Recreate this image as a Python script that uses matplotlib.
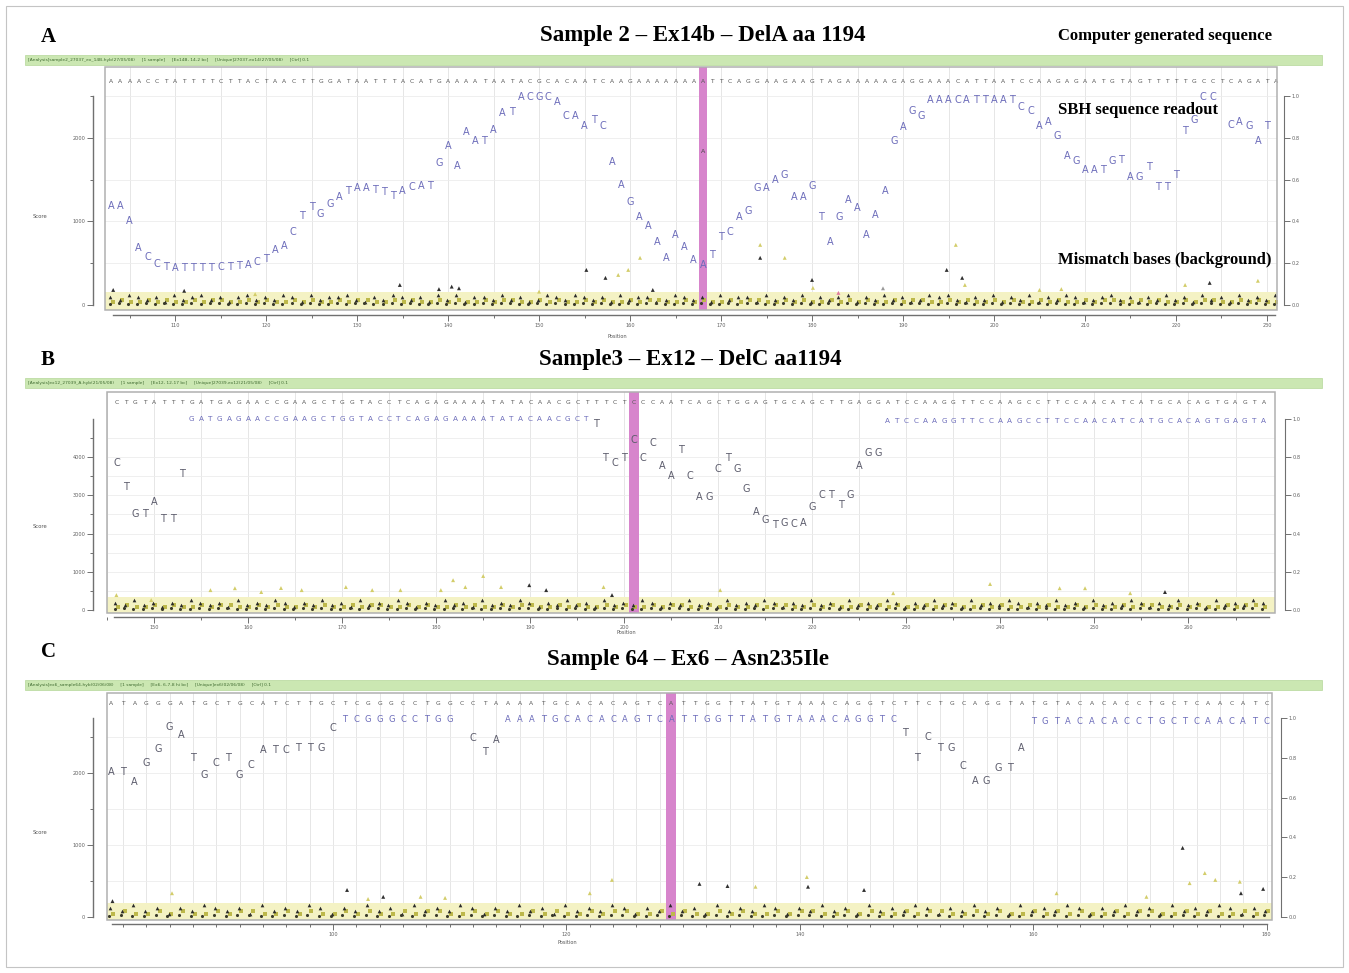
import numpy as np
import matplotlib
matplotlib.use("Agg")
import matplotlib.pyplot as plt
from matplotlib.patches import Rectangle

W, H = 1349, 973
nan = np.nan

# ---------------- panel A : Sample 2 - Ex14b - DelA
a_title = "Sample 2 – Ex14b – DelA aa 1194"
a_start = 103
a_seq = ("AAAACCTATT" "TTCTTACTAA" "CTTGGATAAT" "TTACATGAAA" "ATAATACGCA"
         "CAATCAAGAA" "AAAAA" "A"
         "TTCAGGAAGA" "AGTAGAAAAA" "GAGGAAACAT" "TAATCCAAGA" "GAATGTAGTT"
         "TTTGCCTCAG" "ATA")
a_mut = 168
a_score = [1190, 1190, 1000, 685, 577, 490, 460, 445, 445, 445,
           445, 445, 455, 455, 470, 480, 515, 550, 660, 710,
           880, 1060, 1170, 1090, 1210, 1290, 1360, 1400, 1400, 1380,
           1350, 1310, 1360, 1410, 1430, 1430, 1700, 1900, 1670, 2070,
           1960, 1960, 2100, 2300, 2310, 2490, 2490, 2490, 2490, 2430,
           2260, 2260, 2140, 2220, 2140, 1710, 1440, 1230, 1050, 940,
           760, 565, 840, 700, 540, 480, 600, 820, 880, 1050,
           1120, 1400, 1400, 1500, 1560, 1290, 1290, 1420, 1050, 760,
           1050, 1260, 1160, 840, 1080, 1360, 1960, 2130, 2320, 2260,
           2460, 2460, 2460, 2460, 2460, 2460, 2460, 2460, 2460, 2460,
           2370, 2320, 2140, 2190, 2020, 1780, 1720, 1620, 1620, 1620,
           1720, 1740, 1530, 1530, 1650, 1410, 1410, 1560, 2080, 2220,
           2490, 2490, nan, 2160, 2190, 2140, 1960, 2140, nan]
a_extra = [(168, 1840, "A")]
a_bg_dark = ("3243231423" "4231342324" "3142334213" "2432314241" "3324231243"
             "2432314233" "1243231423" "3142324132" "3413242312" "4342132413"
             "2413243123" "4231324231" "423142324")
a_bg_olive = ("1211212112" "1221121211" "2121121221" "1212112121" "1212211212"
              "1121211212" "2112121121" "2211212112" "1212112122" "1121211212"
              "1121211212" "2112121121" "221121211")
a_out_pos = [103.2, 111.0, 118.8, 134.7, 139.0, 140.4, 141.2, 150.0, 155.2, 157.3,
             158.7, 159.8, 161.1, 162.5, 174.3, 174.3, 177.0, 180.0, 180.1, 182.9,
             187.8, 194.8, 195.8, 196.5, 196.8, 205.0, 207.4, 221.0, 223.7, 229.0]
a_out_score = [180, 170, 130, 240, 190, 220, 200, 160, 420, 325,
               360, 420, 565, 180, 720, 565, 565, 300, 205, 145,
               200, 420, 720, 325, 240, 180, 190, 240, 265, 290]
a_out_col = "kkokkkkokkoooko" "kokopgkokooooko"
a_xticks = list(range(110, 231, 10))

# ---------------- panel B : Sample 3 - Ex12 - DelC
b_title = "Sample3 – Ex12 – DelC aa1194"
b_start = 146
b_seq = ("CTGTATTTGA" "TGAGAACCGA" "AGCTGGTACC" "TCAGAGAAAA" "TATACAACGC"
         "TTTCT" "C"
         "CCAATCAGCT" "GGAGTGCAGC" "TTGAGGATCC" "AAGGTTCCAA" "GCCTTCCAAC"
         "ATCATGCACA" "GTGAGTA")
b_mut = 201
b_score = ([3840, 3210, 2510, 2510, 2820, 2380, 2380, 3550]
           + [5010] * 43
           + [4880, 3990, 3860, 3990, 4440, 3990, 4380, 3760, 3500, 4180,
              3500, 2950, 2950, 3680, 3970, 3680, 3160, 2560, 2350, 2220,
              2270, 2250, 2270, 2690, 3000, 3000, 2740, 3000, 3760, 4120, 4120]
           + [4960] * 41)
b_bg_dark = ("3242313243" "2314232431" "3242314232" "4313242314" "2324313242"
             "3142324313" "2423142324" "3132423142" "3243132423" "1423243132"
             "4231423243" "1324231423" "243")
b_bg_olive = ("1211212112" "1221121211" "2121121221" "1212112121" "1212211212"
              "1121211212" "2112121121" "2211212112" "1212112122" "1121211212"
              "1121211212" "2112121121" "221")
b_out_pos = [146.0, 149.7, 156.0, 158.6, 161.4, 163.5, 165.7, 170.4, 173.2, 176.2,
             180.5, 181.8, 183.1, 185.0, 186.9, 189.9, 191.7, 197.8, 198.7, 210.2,
             228.6, 238.9, 246.3, 249.0, 253.8, 257.5]
b_out_score = [390, 260, 520, 570, 470, 575, 520, 600, 520, 520,
               520, 780, 600, 890, 600, 650, 520, 600, 390, 520,
               440, 680, 570, 570, 440, 470]
b_out_col = "oooooooooo" "oooookkokoo" "ooooko"
b_xticks = list(range(150, 261, 10))

# ---------------- panel C : Sample 64 - Ex6 - Asn235Ile
c_title = "Sample 64 – Ex6 – Asn235Ile"
c_start = 81
c_seq = ("ATAGGGATGC" "TGCATCTTGC" "TCGGGCCTGG" "CCTAAAATGC" "ACACAGTC"
         "A"
         "TTGGTTATGT" "AAACAGGTCT" "TCTGCAGGTA" "TGTACACACC" "TGCTCAACAT" "C")
c_mut = 129
c_score = ([2020, 2020, 1880, 2140, 2340, 2640, 2530, 2210, 1970, 2140,
            2210, 1970, 2110, 2320, 2320, 2320, 2350, 2350, 2350, 2630]
           + [2740] * 10 + [nan, 2490, 2290, 2460] + [2740] * 34
           + [2560, 2210, 2500, 2350, 2350, 2100, 1890, 1890, 2070, 2070, 2350]
           + [2710] * 21)
c_bg_dark = ("3242313243" "2314232431" "3242314232" "4313242314" "2324313242"
             "3142324313" "2423142324" "3132423142" "3243132423" "1423243132")
c_bg_olive = ("1211212112" "1221121211" "2121121221" "1212112121" "1212211212"
              "1121211212" "2112121121" "2211212112" "1212112122" "1121211212")
c_out_pos = [81.1, 86.2, 101.2, 103.0, 104.3, 107.5, 109.6, 123.9, 122.0, 131.4,
             133.8, 136.2, 140.6, 140.7, 145.5, 162.0, 169.7, 172.8, 173.4, 174.7,
             175.6, 177.7, 177.8, 179.7]
c_out_score = [220, 330, 375, 250, 280, 280, 265, 515, 330, 460,
               430, 420, 555, 420, 375, 330, 280, 960, 470, 610,
               515, 490, 330, 390]
c_out_col = "kokokooookkookkookooookko"
c_xticks = list(range(100, 181, 20))

bar_texts = [
    "[Analysis]sample2_27037_ex_14B-hyb(27/05/08)     [1 sample]     [Ex14B, 14-2 bc]     [Unique]27037.ex14(27/05/08)     [Ctrl] 0.1",
    "[Analysis]ex12_27039_A-hyb(21/05/08)     [1 sample]     [Ex12, 12-17 bc]     [Unique]27039.ex12(21/05/08)     [Ctrl] 0.1",
    "[Analysis]ex6_sample64-hyb(02/06/08)     [1 sample]     [Ex6, 6-7-8 hi bc]     [Unique]ex6(02/06/08)     [Ctrl] 0.1",
]

BLUE = "#6c6cba"
GRAY = "#5c5c6c"
SEQC = "#555555"
MAG = "#d785cc"
outcols = {"k": "#303030", "o": "#d3cd6a", "g": "#9a9a9a", "p": "#e07aa0"}

fig = plt.figure(figsize=(W / 100, H / 100), dpi=100)
fig.patches.append(Rectangle((6 / W, 6 / H), 1337 / W, 961 / H, transform=fig.transFigure,
                             fill=False, ec="#c4c4c4", lw=0.8))


def px(x, y):
    return x / W, 1 - y / H


def draw_panel(p):
    L, T, R, B = p["box"]
    ax = fig.add_axes([L / W, 1 - B / H, (R - L) / W, (B - T) / H])
    ax.set_xlim(p["xlim"])
    ax.set_ylim(p["ylim"])
    ax.set_axisbelow(True)
    ax.spines["top"].set_visible(False)
    ax.spines["right"].set_visible(False)
    ax.add_patch(Rectangle((0, 0), 1, 1, transform=ax.transAxes, fill=False,
                           ec="#b0b0b0", lw=1.1, zorder=6, clip_on=False))

    # offset axes
    ax.spines["left"].set_position(("outward", p["lout"] * 0.72))
    ax.spines["left"].set_bounds(0, p["ymax"])
    ax.spines["bottom"].set_position(("outward", p["bout"] * 0.72))
    ax.spines["bottom"].set_bounds(*p["xb"])
    for s in ["left", "bottom"]:
        ax.spines[s].set_color("#707070")
        ax.spines[s].set_linewidth(1.0)
    ax.set_xticks(p["xticks"])
    ax.set_xticks(p["xminor"], minor=True)
    ax.set_xticklabels([str(t) for t in p["xticks"]])
    ax.set_yticks(p["yticks"])
    ax.set_yticks(p["yminor"], minor=True)
    ax.tick_params(which="both", colors="#707070", labelcolor="#606060",
                   labelsize=3.6, width=0.7, pad=1.5)
    ax.tick_params(which="major", length=4)
    ax.tick_params(which="minor", length=2.5)
    ax.grid(True, which="both", axis="x", color="#e2e2e2", lw=0.6)
    ax.grid(True, which="both", axis="y", color="#ececec", lw=0.6)

    ax2 = ax.twinx()
    ax2.set_ylim(p["ylim"][0] / p["ymax"], p["ylim"][1] / p["ymax"])
    for s in ["top", "left", "bottom"]:
        ax2.spines[s].set_visible(False)
    ax2.spines["right"].set_position(("outward", p["rout"] * 0.72))
    ax2.spines["right"].set_bounds(0, 1)
    ax2.spines["right"].set_color("#707070")
    ax2.set_yticks([0, 0.2, 0.4, 0.6, 0.8, 1.0])
    ax2.set_yticklabels(["0.0", "0.2", "0.4", "0.6", "0.8", "1.0"])
    ax2.tick_params(colors="#707070", labelcolor="#606060", labelsize=3.6,
                    length=4, width=0.7, pad=1.5)

    # background band and mismatch bases
    ax.axhspan(p["ylim"][0], p["band"], color="#f4f2c4", lw=0, zorder=1)
    n = len(p["seq"])
    pos = p["start"] + np.arange(n)
    dk = np.array([int(c) for c in p["dark"][:n]]) * p["unit"]
    ol = np.array([int(c) for c in p["olive"][:n]]) * p["unit"]
    ax.scatter(pos[:len(ol)] + 0.15, ol, marker="s", s=10, c="#bdb84a", lw=0, zorder=3)
    ax.scatter(pos[:len(dk)] - 0.1, dk, marker="^", s=7, c="#2a2a2a", lw=0, zorder=3)
    ax.scatter(pos[:len(ol)] - 0.2, ol * 0.4, marker="o", s=5, c="#3a3a2a", lw=0, zorder=3)
    ax.scatter(p["out_pos"], p["out_score"], marker="^", s=8,
               c=[outcols[c] for c in p["out_col"][:len(p["out_pos"])]], lw=0, zorder=3)

    # mutation position
    ax.axvspan(p["mut"] - p["mw"] / 2, p["mut"] + p["mw"] / 2, color=MAG, lw=0, zorder=2)

    # computer generated sequence
    for i, ch in enumerate(p["seq"]):
        ax.text(p["start"] + i, p["seq_y"], ch, fontsize=4.3, color=SEQC,
                ha="center", va="center", zorder=5)

    # SBH readout
    for i, ch in enumerate(p["seq"]):
        s = p["score"][i] if i < len(p["score"]) else nan
        if np.isnan(s):
            continue
        if p["thr"] is None:
            col, fs = BLUE, p["fs"]
        elif s >= p["thr"]:
            col, fs = BLUE, p["fs_line"]
        else:
            col, fs = GRAY, p["fs"]
        ax.text(p["start"] + i, s, ch, fontsize=fs, color=col,
                ha="center", va="center", zorder=5)
    for x, s, ch in p["extra"]:
        ax.text(x, s, ch, fontsize=4.5, color="#444444", ha="center", va="center", zorder=5)
    return ax


panels = [
    dict(box=(105, 67, 1277, 310), xlim=(102.3, 231.1), ylim=(-60, 2850), ymax=2500,
         xb=(103.2, 230.9), xticks=a_xticks, xminor=list(range(105, 231, 5)),
         yticks=[0, 1000, 2000], yminor=[500, 1500, 2500],
         lout=12, bout=5, rout=7, start=a_start, seq=a_seq, score=a_score, mut=a_mut, mw=0.9,
         seq_y=2680, thr=None, fs=7, fs_line=7, extra=a_extra,
         dark=a_bg_dark, olive=a_bg_olive, unit=30, band=150,
         out_pos=a_out_pos, out_score=a_out_score, out_col=a_out_col),
    dict(box=(107, 392, 1275, 613), xlim=(145.1, 269.2), ylim=(-79, 5707), ymax=5000,
         xb=(145.7, 268.6), xticks=b_xticks, xminor=list(range(145, 270, 5)),
         yticks=[0, 1000, 2000, 3000, 4000], yminor=[500, 1500, 2500, 3500, 4500],
         lout=14, bout=4, rout=10, start=b_start, seq=b_seq, score=b_score, mut=b_mut, mw=1.05,
         seq_y=5430, thr=4900, fs=7, fs_line=5.2, extra=[],
         dark=b_bg_dark, olive=b_bg_olive, unit=65, band=330,
         out_pos=b_out_pos, out_score=b_out_score, out_col=b_out_col),
    dict(box=(107, 693, 1272, 920), xlim=(80.63, 180.46), ylim=(-42, 3111), ymax=2760,
         xb=(81.1, 180.0), xticks=c_xticks, xminor=list(range(82, 181, 2)),
         yticks=[0, 1000, 2000], yminor=[500, 1500, 2500],
         lout=14, bout=4, rout=9, start=c_start, seq=c_seq, score=c_score, mut=c_mut, mw=0.86,
         seq_y=2960, thr=2700, fs=7, fs_line=6, extra=[],
         dark=c_bg_dark, olive=c_bg_olive, unit=40, band=200,
         out_pos=c_out_pos, out_score=c_out_score, out_col=c_out_col),
]

letters = ["A", "B", "C"]
titles = [a_title, b_title, c_title]
letter_y = [37, 360, 652]
title_xy = [(703, 36), (690, 360), (688, 659)]
bar_y = [55, 378, 680]
score_y = [216, 527, 832]
posl_xy = [(617, 337), (626, 633), (567, 943)]

serif = "Liberation Serif"
for k, p in enumerate(panels):
    draw_panel(p)
    fig.text(*px(48, letter_y[k]), letters[k], fontsize=15, fontweight="bold",
             family=serif, ha="center", va="center")
    fig.text(*px(*title_xy[k]), titles[k], fontsize=16.5, fontweight="bold",
             family=serif, ha="center", va="center")
    x0, y0 = px(25, bar_y[k] + 10)
    fig.patches.append(Rectangle((x0, y0), 1297 / W, 10 / H, transform=fig.transFigure,
                                 fc="#cbe7b2", ec="#b5d89a", lw=0.5))
    fig.text(*px(28, bar_y[k] + 5), bar_texts[k], fontsize=3.2, color="#3f6a30",
             ha="left", va="center")
    fig.text(*px(40, score_y[k]), "Score", fontsize=3.8, color="#555555",
             ha="center", va="center")
    fig.text(*px(*posl_xy[k]), "Position", fontsize=3.6, color="#555555",
             ha="center", va="center")

fig.text(*px(1058, 36), "Computer generated sequence", fontsize=12, fontweight="bold",
         family=serif, ha="left", va="center")
fig.text(*px(1058, 110), "SBH sequence readout", fontsize=12, fontweight="bold",
         family=serif, ha="left", va="center", zorder=10)
fig.text(*px(1058, 260), "Mismatch bases (background)", fontsize=12, fontweight="bold",
         family=serif, ha="left", va="center", zorder=10)

fig.savefig("out.png", dpi=100)
